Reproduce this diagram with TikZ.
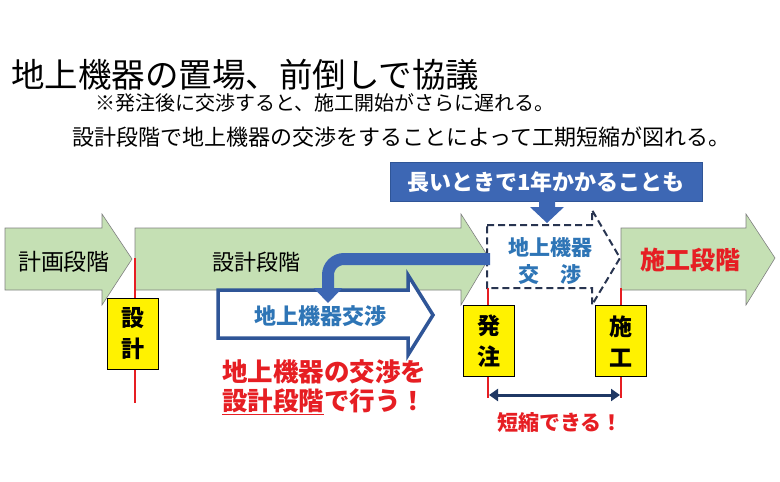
\documentclass[tikz,border=0pt]{standalone}
\usepackage{fontspec}
\setmainfont{Noto Sans CJK JP}
\usepackage{tikz, xcolor}
\usetikzlibrary{arrows.meta}
\definecolor{phasegreen}{RGB}{197,224,180}
\definecolor{boxblue}{RGB}{61,103,180}
\definecolor{edgeblue}{RGB}{47,85,151}
\definecolor{textblue}{RGB}{46,117,182}
\definecolor{alertred}{RGB}{230,30,35}
\definecolor{navy}{RGB}{31,56,100}
\definecolor{dashgray}{RGB}{40,52,80}

\begin{document}
\begin{tikzpicture}[x=1pt,y=-1pt,
  phase/.style={fill=phasegreen,draw=gray,line width=0.6pt},
  stagebox/.style={draw=black,fill=yellow,line width=1pt,minimum width=51pt,minimum height=71pt,inner sep=0pt,align=center,font=\fontsize{23}{31}\selectfont\bfseries},
  milestone/.style={draw=alertred,line width=1.3pt},
  plain/.style={inner sep=0pt,anchor=west}]
\useasboundingbox (0,0) rectangle (780,482);
\node[plain,font=\fontsize{33.5}{33.5}\selectfont] (title) at (11,75) {地上機器の置場、前倒しで協議};
\node[plain,font=\fontsize{20}{20}\selectfont] (note) at (95,103) {※発注後に交渉すると、施工開始がさらに遅れる。};
\node[plain,font=\fontsize{22}{22}\selectfont] (point) at (72,137) {設計段階で地上機器の交渉をすることによって工期短縮が図れる。};
\draw[phase] (5,228) -- (102,228) -- (102,214) -- (132,259) -- (102,305) -- (102,290) -- (5,290) -- cycle;
\draw[phase] (135,228) -- (461,228) -- (461,214) -- (489,258) -- (461,305) -- (461,290) -- (135,290) -- cycle;
\draw[phase] (621,228) -- (746,228) -- (746,214) -- (775,258) -- (746,305) -- (746,290) -- (621,290) -- cycle;
\node[font=\fontsize{23}{23}\selectfont] (keikaku) at (64,262) {計画段階};
\node[font=\fontsize{22}{22}\selectfont] (sekkeiphase) at (256,262) {設計段階};
\node[font=\fontsize{25}{25}\selectfont\bfseries,text=alertred] (sekophase) at (690,260) {施工段階};
\draw[fill=white,draw=dashgray,dash pattern=on 7pt off 4pt,line width=2pt] (487,225) -- (592,225) -- (592,210) -- (620,258) -- (592,305) -- (592,288) -- (487,288) -- cycle;
\node[font=\fontsize{21}{27}\selectfont\bfseries,text=textblue,align=center] (dashed) at (550,261) {地上機器\\交　渉};
\draw[fill=white,draw=edgeblue,line width=3.5pt] (218,290) -- (408,290) -- (408,275) -- (433,315) -- (408,355) -- (408,338) -- (218,338) -- cycle;
\node[font=\fontsize{22}{22}\selectfont\bfseries,text=textblue] (nego) at (320,316) {地上機器交渉};
\coordinate (bandstart) at (490,259);
\coordinate (bandturn) at (328,259);
\coordinate (bandend) at (328,303);
\draw[draw=boxblue,line width=12pt,rounded corners=16pt,-{Triangle[width=28pt,length=15pt]}] (bandstart) -- (bandturn) -- (bandend);
\node[fill=boxblue,draw=edgeblue,line width=1pt,minimum width=312pt,minimum height=39pt,text=white,font=\fontsize{22}{22}\selectfont\bfseries] (long) at (546,182) {長いときで1年かかることも};
\fill[boxblue] (539,201) -- (555,201) -- (555,207) -- (564,207) -- (547,223) -- (530,207) -- (539,207) -- cycle;
\coordinate (l1t) at (135,258);
\coordinate (l1b) at (135,403);
\coordinate (l2t) at (488,288);
\coordinate (l2b) at (488,398);
\coordinate (l3t) at (621,288);
\coordinate (l3b) at (621,398);
\draw[milestone] (l1t) -- (l1b);
\draw[milestone] (l2t) -- (l2b);
\draw[milestone] (l3t) -- (l3b);
\node[stagebox] (sekkei) at (133,334) {設\\計};
\node[stagebox] (hacchu) at (489,341) {発\\注};
\node[stagebox] (seko) at (621,341) {施\\工};
\coordinate (sa) at (489,395);
\coordinate (sb) at (620,395);
\draw[navy,line width=3pt,{Triangle[width=12pt,length=9pt]}-{Triangle[width=12pt,length=9pt]}] (sa) -- (sb);
\node[font=\fontsize{21}{21}\selectfont\bfseries,text=alertred] (short) at (560,423) {短縮できる！};
\node[plain,font=\fontsize{25.5}{29}\selectfont\bfseries,text=alertred,align=left,anchor=north west] (todo) at (222,359) {地上機器の交渉を\\\underline{設計段階}で行う！};
\end{tikzpicture}
\end{document}
